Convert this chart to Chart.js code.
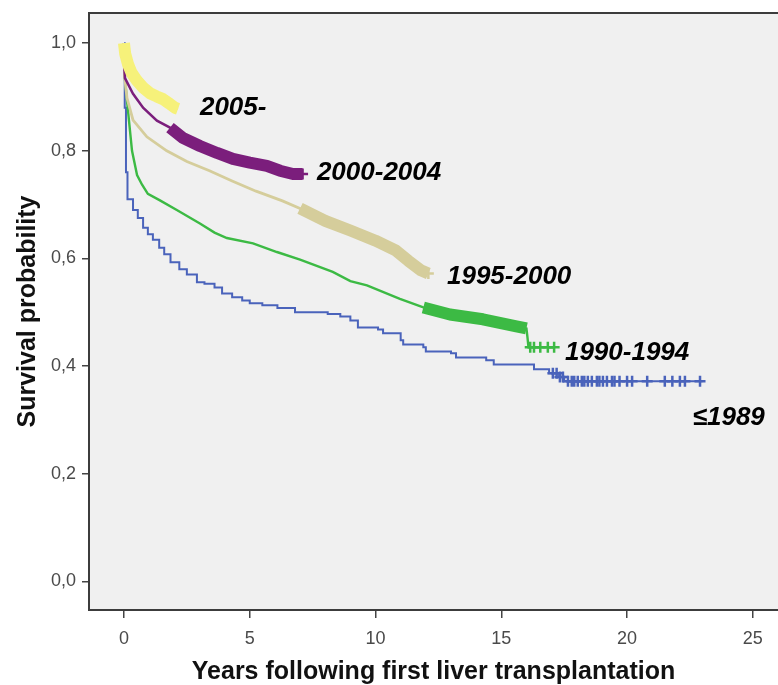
<!DOCTYPE html>
<html>
<head>
<meta charset="utf-8">
<style>
  html, body { margin: 0; padding: 0; background: #fff; overflow: hidden; }
  #wrap { width: 778px; height: 685px; }
  canvas { display: block; }
</style>
<script src="https://cdn.jsdelivr.net/npm/chart.js@4/dist/chart.umd.min.js"></script>
</head>
<body>
<div id="wrap"><canvas id="km" width="778" height="685"></canvas></div>
<script>
// Kaplan-Meier survival after first liver transplantation, by era of transplant.
const cohortNames  = ['2005-', '2000-2004', '1995-2000', '1990-1994', '\u22641989'];
const cohortColors = ['#f6f17a', '#7b1e7c', '#d5cd9b', '#3cba44', '#4a63bb'];

// Survival curves: follow-up years and survival probability
const years2005 = [0, 0.05, 0.16, 0.3, 0.52, 0.75, 1.03, 1.3, 1.55, 1.8, 2.03, 2.15];
const surv2005  = [1.0, 0.98, 0.961, 0.945, 0.930, 0.918, 0.907, 0.901, 0.896, 0.888, 0.880, 0.878];

const years2000 = [0, 0.02, 0.04, 0.36, 0.76, 1.31, 1.83, 2.34, 3.02, 3.70, 4.33, 5.0, 5.68, 6.2, 6.72, 7.1];
const surv2000  = [1.0, 0.95, 0.935, 0.906, 0.880, 0.856, 0.843, 0.824, 0.809, 0.796, 0.785, 0.778, 0.772, 0.763, 0.757, 0.757];

const years1995 = [0, 0.02, 0.12, 0.36, 0.91, 1.7, 2.5, 3.4, 4.3, 5.25, 6.3, 7.0, 8.0, 9.0, 10.0, 10.8, 11.3, 11.8, 12.1];
const surv1995  = [1.0, 0.94, 0.898, 0.857, 0.826, 0.80, 0.78, 0.763, 0.744, 0.725, 0.707, 0.693, 0.670, 0.652, 0.633, 0.615, 0.596, 0.578, 0.572];

const years1990 = [0, 0.02, 0.12, 0.32, 0.52, 0.72, 0.95, 1.43, 2.1, 3.02, 3.6, 4.09, 5.13, 6.08, 7.0, 8.3, 9.0, 9.66, 10.97, 11.9, 12.96, 14.27, 15.6, 16.0, 16.04, 16.08, 17.1];
const surv1990  = [1.0, 0.943, 0.893, 0.80, 0.755, 0.737, 0.72, 0.708, 0.69, 0.665, 0.648, 0.638, 0.628, 0.612, 0.598, 0.575, 0.558, 0.55, 0.525, 0.509, 0.496, 0.487, 0.474, 0.470, 0.454, 0.435, 0.435];

const years1989 = [0, 0.03, 0.08, 0.14, 0.36, 0.55, 0.76, 0.95, 1.15, 1.4, 1.6, 1.85, 2.2, 2.5, 2.9, 3.2, 3.6, 3.9, 4.3, 4.7, 5.0, 5.5, 6.1, 6.8, 8.1, 8.6, 9.0, 9.3, 10.1, 10.3, 11.0, 11.1, 11.9, 12.0, 13.0, 13.2, 14.4, 14.7, 16.3, 16.9, 17.3, 17.5, 23.0];
const surv1989  = [1.0, 0.88, 0.76, 0.71, 0.69, 0.675, 0.657, 0.645, 0.635, 0.62, 0.608, 0.593, 0.58, 0.57, 0.556, 0.553, 0.546, 0.535, 0.528, 0.522, 0.517, 0.513, 0.508, 0.50, 0.497, 0.492, 0.485, 0.472, 0.468, 0.461, 0.448, 0.44, 0.435, 0.427, 0.424, 0.416, 0.411, 0.403, 0.394, 0.387, 0.38, 0.372, 0.372];

// Stretches where censored cases are so dense that they merge into a band
const bandFrom = [0, 1.83, 7.0, 11.9, null];
const bandTo   = [2.15, 7.1, 12.1, 16.0, null];

// Individual censoring marks (years)
const censor2005 = [];
const censor2000 = [7.1];
const censor1995 = [12.1];
const censor1990 = [16.15, 16.3, 16.55, 16.85, 17.1];
const censor1989 = [17.05, 17.2, 17.33, 17.45, 17.65, 17.8, 17.9, 18.04, 18.2, 18.3, 18.44, 18.6, 18.8, 18.9, 19.04, 19.2, 19.4, 19.5, 19.7, 20.0, 20.2, 20.8, 21.5, 21.8, 22.1, 22.3, 22.9];

// Curve label anchors (years, survival)
const labelX = [3.02, 7.67, 12.84, 17.53, 22.61];
const labelY = [0.880, 0.759, 0.565, 0.424, 0.304];

// Axis ticks
const xTicks = [0, 5, 10, 15, 20, 25];
const xTickLabels = ['0', '5', '10', '15', '20', '25'];
const yTicks = [0, 0.2, 0.4, 0.6, 0.8, 1.0];
const yTickLabels = ['0,0', '0,2', '0,4', '0,6', '0,8', '1,0'];

const curveYears = [years2005, years2000, years1995, years1990, years1989];
const curveSurv  = [surv2005, surv2000, surv1995, surv1990, surv1989];
const censorYears = [censor2005, censor2000, censor1995, censor1990, censor1989];
const steppedCurve = [false, false, false, false, 'before'];
const lineWidths = [2.5, 2.5, 2.8, 2.4, 2];

function survivalAt(ts, ss, t) {
  let v = ss[0];
  for (let i = 0; i < ts.length; i++) if (ts[i] <= t) v = ss[i];
  return v;
}

const datasets = [];
cohortNames.forEach((name, k) => {
  const ts = curveYears[k], ss = curveSurv[k];
  const pts = ts.map((t, i) => ({ x: t, y: ss[i] }));
  if (bandFrom[k] !== null) {
    datasets.push({
      label: name + ' censored',
      data: pts.filter(p => p.x >= bandFrom[k] && p.x <= bandTo[k]),
      borderColor: cohortColors[k],
      borderWidth: 12,
      borderCapStyle: 'butt',
      borderJoinStyle: 'round',
      pointRadius: 0,
      fill: false,
      tension: 0
    });
  }
  datasets.push({
    label: name,
    data: pts,
    borderColor: cohortColors[k],
    borderWidth: lineWidths[k],
    pointRadius: 0,
    fill: false,
    stepped: steppedCurve[k],
    tension: 0
  });
  if (censorYears[k].length) {
    datasets.push({
      label: name + ' marks',
      data: censorYears[k].map(t => ({ x: t, y: survivalAt(ts, ss, t) })),
      showLine: false,
      pointStyle: 'cross',
      pointRadius: 5.5,
      pointBorderWidth: 2.5,
      pointBorderColor: cohortColors[k],
      pointBackgroundColor: cohortColors[k]
    });
  }
});

const framePlugin = {
  id: 'frame',
  beforeDraw(chart) {
    const { ctx, chartArea: a } = chart;
    ctx.save();
    ctx.fillStyle = '#ffffff';
    ctx.fillRect(0, 0, chart.width, chart.height);
    ctx.fillStyle = '#f0f0f0';
    ctx.fillRect(a.left, a.top, a.right - a.left, a.bottom - a.top);
    ctx.restore();
  },
  afterDraw(chart) {
    const { ctx, chartArea: a, scales } = chart;
    ctx.save();
    // plot frame
    ctx.strokeStyle = '#3c3c3c';
    ctx.lineWidth = 2;
    ctx.beginPath();
    ctx.moveTo(a.right + 2, a.top);
    ctx.lineTo(a.left, a.top);
    ctx.lineTo(a.left, a.bottom);
    ctx.lineTo(a.right + 2, a.bottom);
    ctx.stroke();
    // curve labels
    ctx.fillStyle = '#000';
    ctx.font = 'italic bold 26px "Liberation Sans", Arial, sans-serif';
    ctx.textAlign = 'left';
    ctx.textBaseline = 'middle';
    cohortNames.forEach((name, k) => {
      ctx.fillText(name, scales.x.getPixelForValue(labelX[k]), scales.y.getPixelForValue(labelY[k]));
    });
    ctx.restore();
  }
};

new Chart(document.getElementById('km'), {
  type: 'line',
  data: { datasets },
  plugins: [framePlugin],
  options: {
    responsive: false,
    devicePixelRatio: 1,
    animation: false,
    layout: { autoPadding: false, padding: { top: 13, left: 0, right: 0, bottom: 0 } },
    plugins: { legend: { display: false }, tooltip: { enabled: false } },
    scales: {
      x: {
        type: 'linear',
        min: -1.39,
        max: 26.0,
        afterBuildTicks: s => { s.ticks = xTicks.map(v => ({ value: v })); },
        afterFit: s => { s.height = 75; s.paddingLeft = 0; s.paddingRight = 0; },
        ticks: {
          autoSkip: false,
          maxRotation: 0,
          padding: 10,
          color: '#4a4a4a',
          font: { family: '"Liberation Sans", Arial, sans-serif', size: 18 },
          callback: v => xTickLabels[xTicks.indexOf(v)]
        },
        grid: { display: true, drawOnChartArea: false, drawTicks: true, tickLength: 8, color: '#444', lineWidth: 1.5 },
        border: { display: false },
        title: {
          display: true,
          text: 'Years following first liver transplantation',
          color: '#111',
          font: { family: '"Liberation Sans", Arial, sans-serif', size: 25, weight: 'bold', lineHeight: 1 },
          padding: { top: 0, bottom: 0 }
        }
      },
      y: {
        type: 'linear',
        min: -0.053,
        max: 1.056,
        afterBuildTicks: s => { s.ticks = yTicks.map(v => ({ value: v })); },
        afterFit: s => { s.width = 89; s.paddingTop = 0; s.paddingBottom = 0; },
        ticks: {
          padding: 6,
          color: '#4a4a4a',
          font: { family: '"Liberation Sans", Arial, sans-serif', size: 18 },
          callback: v => yTickLabels[yTicks.indexOf(v)]
        },
        grid: { display: true, drawOnChartArea: false, drawTicks: true, tickLength: 7, color: '#444', lineWidth: 1.5 },
        border: { display: false },
        title: {
          display: true,
          text: 'Survival probability',
          color: '#111',
          font: { family: '"Liberation Sans", Arial, sans-serif', size: 25, weight: 'bold', lineHeight: 1 },
          padding: { top: 16, bottom: 0 }
        }
      }
    }
  }
});
</script>
</body>
</html>
